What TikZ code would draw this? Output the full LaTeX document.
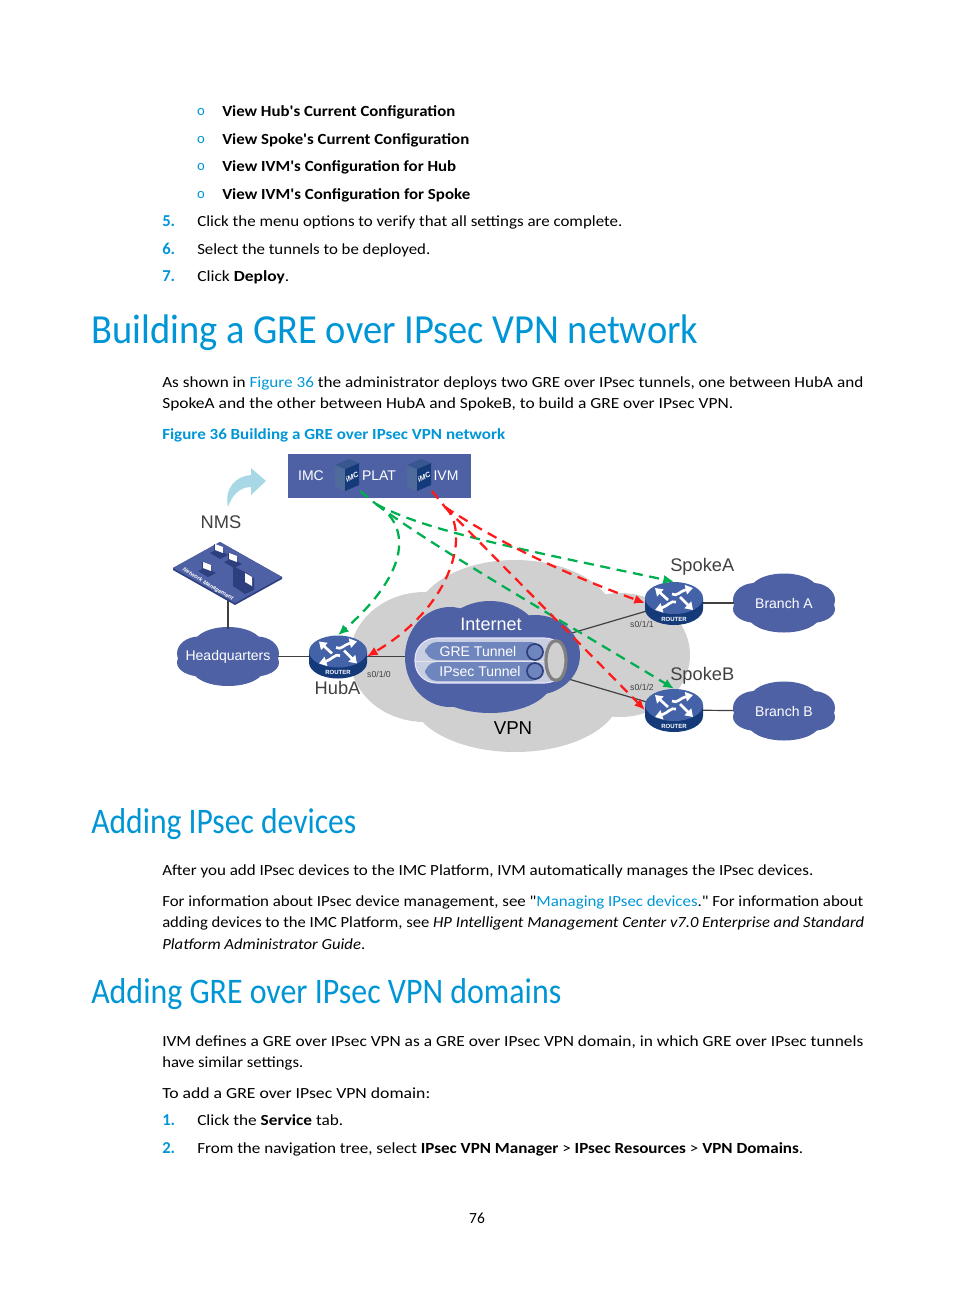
\documentclass[tikz,border=0pt]{standalone}
\usepackage{graphicx}
\usepackage{fontspec}
\setmainfont{Carlito}[Ligatures=TeXOff]
\newfontfamily\dgmfont{Liberation Sans}
\usetikzlibrary{arrows.meta,shapes.geometric}

\definecolor{hpblue}{HTML}{0096D6}
\definecolor{dgmblue}{HTML}{4F61A5}
\definecolor{dgmdark}{HTML}{2E3F80}
\definecolor{vpngray}{HTML}{D0D0D0}
\definecolor{greenline}{HTML}{00B050}
\definecolor{redline}{HTML}{FF1A1A}
\definecolor{labelgray}{HTML}{404040}
\definecolor{routertop}{HTML}{4462A8}
\definecolor{routerside}{HTML}{143A7A}
\definecolor{pillblue}{HTML}{6E86BD}
\definecolor{bandblue}{HTML}{C8CEE2}
\definecolor{nmsarrow}{HTML}{A8D8E6}

\newlength{\pxw}
\setlength{\pxw}{0.75pt}
% squeeze a line of text to the width it has on the page
\newcommand{\fitw}[2]{\resizebox{#1\pxw}{\height}{#2}}
\newcommand{\bodyfont}{\fontsize{11.6pt}{14pt}\selectfont}

\tikzset{
  bodyline/.style={anchor=base west, inner sep=0pt, font=\bodyfont},
  stepnum/.style={bodyline, text=hpblue, font=\fontsize{12.5pt}{14pt}\selectfont\bfseries},
  bulletmark/.style={inner sep=0pt, text=hpblue, font=\fontsize{11pt}{11pt}\selectfont},
  bighead/.style={anchor=base west, inner sep=0pt, text=hpblue, font=\fontsize{31pt}{33pt}\selectfont},
  midhead/.style={anchor=base west, inner sep=0pt, text=hpblue, font=\fontsize{27pt}{29pt}\selectfont},
  dgmlabel/.style={inner sep=0pt, text=labelgray, font=\dgmfont\fontsize{13.7pt}{14pt}\selectfont},
  dgmwhite/.style={inner sep=0pt, text=white, font=\dgmfont\fontsize{10.5pt}{12pt}\selectfont},
  portlabel/.style={inner sep=0pt, text=labelgray, font=\dgmfont\fontsize{6.5pt}{7pt}\selectfont},
  cloudspot/.style={rectangle, minimum width=75.5pt, minimum height=42pt, inner sep=0pt, outer sep=0pt, text=white,
    font=\dgmfont\fontsize{10.5pt}{12pt}\selectfont},
  routerspot/.style={ellipse, minimum width=43.5pt, minimum height=32pt, inner sep=0pt, outer sep=0pt},
  wire/.style={draw=labelgray, line width=0.9pt},
  greendash/.style={draw=greenline, line width=1.7pt, dash pattern=on 7.5pt off 5pt},
  reddash/.style={draw=redline, line width=1.7pt, dash pattern=on 7.5pt off 5pt},
  greenarrow/.style={greendash, -{Latex[length=8pt,width=7pt]}},
  redarrow/.style={reddash, -{Latex[length=8pt,width=7pt]}},
  routerarm/.style={draw=white, line width=2pt, -{Triangle[length=5.5pt,width=7pt]}},
  lumpcloud/.pic={
    \fill[dgmblue] (0,-12.5) ellipse[x radius=34, y radius=17];
    \fill[dgmblue] (0,12.5) ellipse[x radius=36, y radius=17];
    \fill[dgmblue] (-29,-3) ellipse[x radius=22, y radius=17];
    \fill[dgmblue] (29,-3) ellipse[x radius=22, y radius=17];
    \fill[dgmblue] (-27,6) ellipse[x radius=24, y radius=14];
    \fill[dgmblue] (27,6) ellipse[x radius=24, y radius=14];
  },
  router/.pic={
    \fill[routerside] (-29,-5) -- (-29,6) arc[start angle=180, end angle=0, x radius=29, y radius=16] -- (29,-5) -- cycle;
    \fill[routertop] (0,-5) ellipse[x radius=29, y radius=16];
    \draw[routerarm] (-6,-3) -- (-19,-15);
    \draw[routerarm] (6,-6) -- (19,7);
    \draw[routerarm] (-2,-9) .. controls (3,-6) and (6,-12) .. (19,-15);
    \draw[routerarm] (2,-1) .. controls (-3,-3) and (-6,3) .. (-19,7);
    \node[inner sep=0pt, text=white, font=\dgmfont\bfseries\fontsize{4.5pt}{5pt}\selectfont] at (0,16) {ROUTER};
  },
  imcbox/.pic={
    \fill[fill=routerside!75!white] (-12,-11) -- (-2,-7) -- (-2,15) -- (-12,10) -- cycle;
    \fill[routerside] (-2,-7) -- (12,-13) -- (12,9) -- (-2,15) -- cycle;
    \fill[routerside!85!white] (-12,-11) -- (2,-17) -- (12,-13) -- (-2,-7) -- cycle;
    \node[inner sep=0pt, rotate=25, text=white, font=\dgmfont\bfseries\itshape\fontsize{5.5pt}{6pt}\selectfont] at (5,1) {iMC};
  },
  deskmonitor/.pic={
    \fill[dgmdark] (-9,3) -- (-1,-1) -- (9,5) -- (1,9) -- cycle;
    \fill[dgmdark] (-5,-6) -- (5,-2) -- (5,6) -- (-5,2) -- cycle;
    \fill[white] (-4,-6) -- (4,-3) -- (4,3) -- (-4,0) -- cycle;
  }
}

\begin{document}
\begin{tikzpicture}[x=0.75pt, y=-0.75pt]
  \useasboundingbox (0,0) rectangle (954,1296);

  % text above the figure
  \node[bulletmark] (mark1) at (201,112) {o};
  \node[bulletmark] (mark2) at (201,139.5) {o};
  \node[bulletmark] (mark3) at (201,167) {o};
  \node[bulletmark] (mark4) at (201,195) {o};
  \node[bodyline] (view1) at (222,116) {\fitw{233}{\bfseries View Hub's Current Configuration}};
  \node[bodyline] (view2) at (222,144) {\fitw{247}{\bfseries View Spoke's Current Configuration}};
  \node[bodyline] (view3) at (222,171) {\fitw{234}{\bfseries View IVM's Configuration for Hub}};
  \node[bodyline] (view4) at (222,199) {\fitw{248}{\bfseries View IVM's Configuration for Spoke}};
  \node[stepnum] (num5) at (162,226) {5.};
  \node[bodyline] (step5) at (197,226) {\fitw{425}{Click the menu options to verify that all settings are complete.}};
  \node[stepnum] (num6) at (162,254) {6.};
  \node[bodyline] (step6) at (197,254) {\fitw{233}{Select the tunnels to be deployed.}};
  \node[stepnum] (num7) at (162,281) {7.};
  \node[bodyline] (step7) at (197,281) {\fitw{92}{Click \textbf{Deploy}.}};

  \node[bighead] (head1) at (91,343) {\fitw{607}{Building a GRE over IPsec VPN network}};
  \node[bodyline] (para1) at (162,387) {\fitw{701}{As shown in \textcolor{hpblue}{Figure 36} the administrator deploys two GRE over IPsec tunnels, one between HubA and}};
  \node[bodyline] (para2) at (162,408) {\fitw{571}{SpokeA and the other between HubA and SpokeB, to build a GRE over IPsec VPN.}};
  \node[bodyline, text=hpblue] (figcap) at (162,439) {\fitw{343}{\bfseries Figure 36 Building a GRE over IPsec VPN network}};

  % the VPN cloud, made of four lobes
  \fill[vpngray] (425,657) ellipse[x radius=75, y radius=65];
  \fill[vpngray] (515,620) ellipse[x radius=100, y radius=60];
  \fill[vpngray] (620,655) ellipse[x radius=70, y radius=62];
  \fill[vpngray] (515,695) ellipse[x radius=105, y radius=57];

  \pic at (228,656.5) {lumpcloud};
  \pic at (784,603) {lumpcloud};
  \pic at (784,711) {lumpcloud};

  \node[inner sep=0pt] (inet) at (492,656.5) {};
  \node[routerspot] (huba) at (338,656.5) {};
  \node[routerspot] (spokea) at (674,603) {};
  \node[routerspot] (spokeb) at (674,710) {};
  \node[cloudspot] (hq) at (228,656.5) {Headquarters};
  \node[cloudspot] (brancha) at (784,603) {Branch A};
  \node[cloudspot] (branchb) at (784,711) {Branch B};
  \coordinate (nmsfoot) at (228,600);

  \draw[wire] (nmsfoot) -- (hq);
  \draw[wire] (hq) -- (huba);
  \draw[wire] (huba) -- (inet);
  \draw[wire] (inet) -- (spokea);
  \draw[wire] (inet) -- (spokeb);
  \draw[wire] (spokea) -- (brancha);
  \draw[wire] (spokeb) -- (branchb);

  % Internet cloud and the tunnel in it
  \fill[dgmblue] (450,657) ellipse[x radius=45, y radius=50];
  \fill[dgmblue] (490,640) ellipse[x radius=50, y radius=39];
  \fill[dgmblue] (535,655) ellipse[x radius=45, y radius=40];
  \fill[dgmblue] (490,680) ellipse[x radius=62, y radius=33];
  \node[dgmwhite, font=\dgmfont\fontsize{13.5pt}{14pt}\selectfont] (inetlabel) at (491,624) {Internet};
  \draw[fill=bandblue, draw=white!90!blue, line width=0.8pt, rounded corners=16pt] (415,638) rectangle (566,683);
  \draw[draw=white!80!gray, line width=0.4pt] (415,661) -- (556,661);
  \fill[pillblue, rounded corners=9pt] (425,642) rectangle (543,660);
  \fill[pillblue, rounded corners=9pt] (425,662) rectangle (543,681);
  \draw[fill=pillblue, draw=dgmdark, line width=1.3pt] (535,652) circle[radius=8];
  \draw[fill=pillblue, draw=dgmdark, line width=1.3pt] (535,671) circle[radius=8];
  \draw[fill=vpngray, draw=black!50, line width=2.4pt] (556,660.5) ellipse[x radius=10, y radius=20];
  \node[dgmwhite] (gre) at (478,651) {GRE Tunnel};
  \node[dgmwhite] (ipsec) at (480,671) {IPsec Tunnel};

  % routers
  \pic at (338,656.5) {router};
  \pic at (674,603) {router};
  \pic at (674,710) {router};

  \node[dgmlabel] (hubalabel) at (337.5,688) {HubA};
  \node[dgmlabel, anchor=base west] (spokealabel) at (670,571) {SpokeA};
  \node[dgmlabel, anchor=base west] (spokeblabel) at (670,680) {SpokeB};
  \node[dgmlabel, text=black, font=\dgmfont\fontsize{14pt}{15pt}\selectfont] (vpnlabel) at (513,728) {VPN};
  \node[portlabel] (port0) at (379,674) {s0/1/0};
  \node[portlabel] (port1) at (642,624) {s0/1/1};
  \node[portlabel] (port2) at (642,687) {s0/1/2};

  % IMC box
  \fill[dgmblue] (288,454) rectangle (471,498);
  \node[dgmwhite] (imc) at (311,476) {IMC};
  \pic at (347,476) {imcbox};
  \pic at (419,476) {imcbox};
  \node[dgmwhite] (plat) at (379,476) {PLAT};
  \node[dgmwhite] (ivm) at (446,476) {IVM};
  \coordinate (platout) at (360,491);
  \coordinate (platfork) at (376,504);
  \coordinate (ivmout) at (432,491);
  \coordinate (ivmfork) at (445,507);

  % NMS
  \fill[nmsarrow] (228,507) .. controls (224,488) and (236,476) .. (251,475) -- (251,468) -- (266,481) -- (251,495) -- (251,487) .. controls (240,487) and (232,495) .. (228,507) -- cycle;
  \node[dgmlabel] (nms) at (221,522) {NMS};
  \fill[dgmdark] (220,542) -- (282,577) -- (282,579) -- (235,605) -- (173,570) -- (173,568) -- cycle;
  \fill[dgmblue] (220,542) -- (282,577) -- (235,603) -- (173,568) -- cycle;
  \pic at (219,550) {deskmonitor};
  \pic at (233,559) {deskmonitor};
  \pic at (207,568) {deskmonitor};
  \fill[dgmdark] (233,566) -- (245,572) -- (254,578) -- (254,590) -- (245,594) -- (233,586) -- cycle;
  \fill[white] (245,573) -- (252,577) -- (252,586) -- (245,582) -- cycle;
  \node[inner sep=0pt, rotate=-31, text=white, font=\dgmfont\bfseries\itshape\fontsize{4.2pt}{5pt}\selectfont] (nmstag) at (208,584.5) {Network Management};

  % dashed connectors
  \draw[greendash] (platout) -- (platfork);
  \draw[reddash] (ivmout) -- (ivmfork);
  \draw[greenarrow] (platfork) .. controls (410,525) and (412,570) .. (huba.north);
  \draw[greenarrow] (platfork) .. controls (425,530) and (500,545) .. (spokea.north);
  \draw[greenarrow] (platfork) .. controls (430,545) and (560,620) .. (spokeb.north);
  \draw[redarrow] (ivmfork) .. controls (470,530) and (455,605) .. (huba.east);
  \draw[redarrow] (ivmfork) .. controls (480,530) and (540,565) .. (spokea.west);
  \draw[redarrow] (ivmfork) -- (spokeb.west);

  % text below the figure
  \node[midhead] (head2) at (91,833) {\fitw{265}{Adding IPsec devices}};
  \node[bodyline] (para3) at (162,875.5) {\fitw{651}{After you add IPsec devices to the IMC Platform, IVM automatically manages the IPsec devices.}};
  \node[bodyline] (para4) at (162,906) {\fitw{701}{For information about IPsec device management, see "\textcolor{hpblue}{Managing IPsec devices}." For information about}};
  \node[bodyline] (para5) at (162,927.5) {\fitw{702}{adding devices to the IMC Platform, see \textit{HP Intelligent Management Center v7.0 Enterprise and Standard}}};
  \node[bodyline] (para6) at (162,949) {\fitw{203}{\textit{Platform Administrator Guide}.}};
  \node[midhead] (head3) at (91,1003) {\fitw{470}{Adding GRE over IPsec VPN domains}};
  \node[bodyline] (para7) at (162,1046) {\fitw{701}{IVM defines a GRE over IPsec VPN as a GRE over IPsec VPN domain, in which GRE over IPsec tunnels}};
  \node[bodyline] (para8) at (162,1067) {\fitw{141}{have similar settings.}};
  \node[bodyline] (para9) at (162,1098) {\fitw{268}{To add a GRE over IPsec VPN domain:}};
  \node[stepnum] (num1) at (162,1125) {1.};
  \node[bodyline] (step1) at (197,1125) {\fitw{146}{Click the \textbf{Service} tab.}};
  \node[stepnum] (num2) at (162,1153) {2.};
  \node[bodyline] (step2) at (197,1153) {\fitw{606}{From the navigation tree, select \textbf{IPsec VPN Manager} > \textbf{IPsec Resources} > \textbf{VPN Domains}.}};
  \node[inner sep=0pt, anchor=base, font=\bodyfont] (pageno) at (477,1223) {76};
\end{tikzpicture}
\end{document}
